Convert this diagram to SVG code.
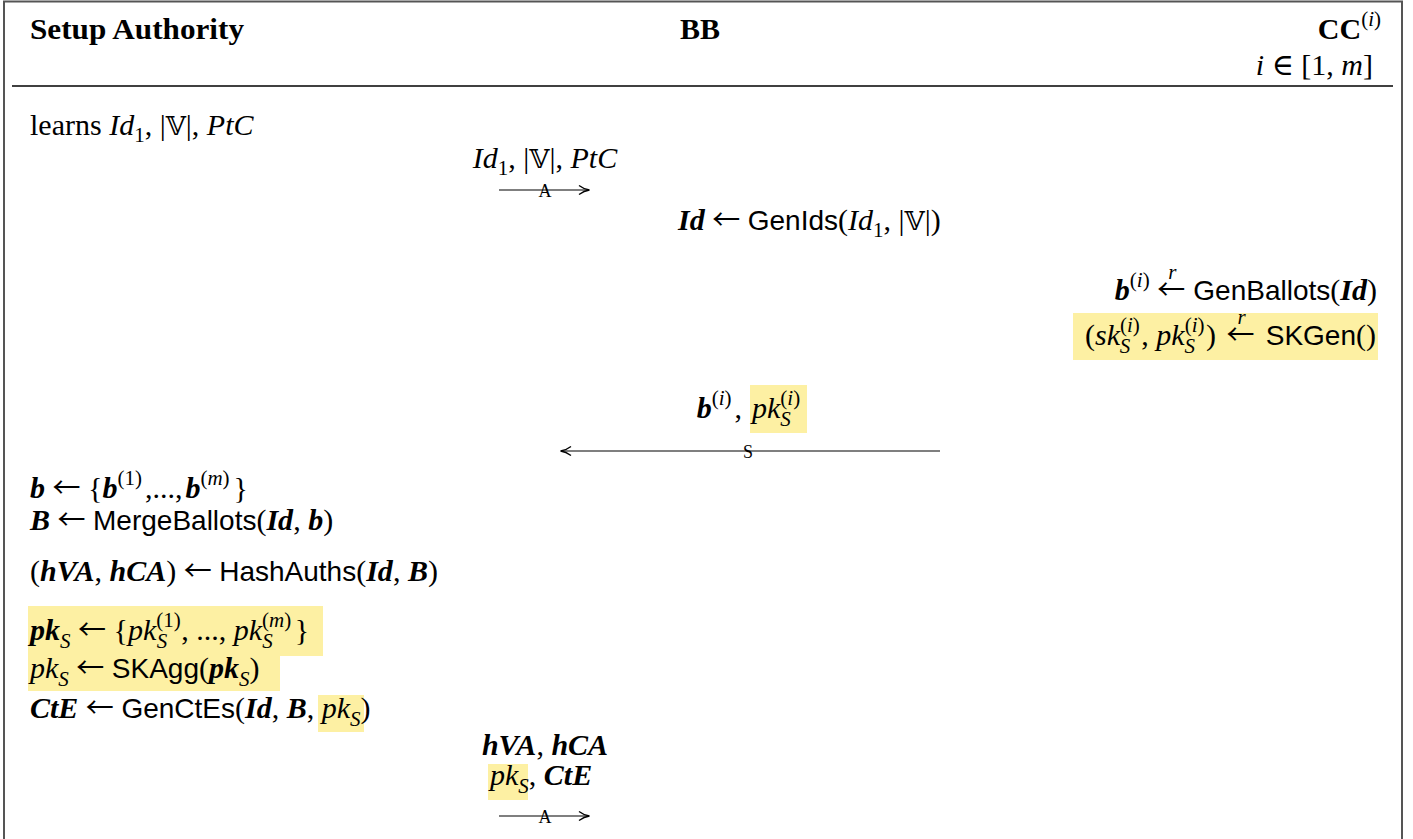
<svg xmlns="http://www.w3.org/2000/svg" width="1413" height="839" viewBox="0 0 1413 839">
<style>
.t{font-family:"Liberation Serif","DejaVu Serif",serif;font-size:30px;fill:#000}
.hd{font-weight:bold;font-size:30px}
.i{font-style:italic}
.bi{font-style:italic;font-weight:bold}
.sf{font-family:"Liberation Sans","DejaVu Sans",sans-serif;font-size:28px}
.ar{font-family:"Noto Sans CJK SC","DejaVu Sans",sans-serif;font-size:28px;font-weight:normal}
.bb{font-family:"DejaVu Serif","DejaVu Sans",serif;font-size:26px}
.sm{font-size:21px}
.lab{font-family:"Liberation Serif",serif;font-size:18px;fill:#000;text-anchor:middle}
.hl{fill:#fdf0a3}
.msg{stroke:#000;stroke-width:1.2;fill:none}
</style>
<defs>
<marker id="ah" viewBox="0 0 12 12" refX="11" refY="6" markerWidth="12" markerHeight="12" markerUnits="userSpaceOnUse" orient="auto-start-reverse">
<path d="M1,1.5 Q6,5.3 11.5,6 Q6,6.7 1,10.5" fill="none" stroke="#000" stroke-width="1.3"/>
</marker>
</defs>
<rect x="0" y="0" width="1413" height="839" fill="#fff"/>
<path d="M4,845 V1.5 H1402 V845" fill="none" stroke="#555" stroke-width="2"/>
<line x1="12" y1="86" x2="1393" y2="86" stroke="#000" stroke-width="1.3"/>

<g id="setup-authority"><text class="t hd" x="30" y="39" textLength="214" lengthAdjust="spacingAndGlyphs">Setup Authority</text></g>
<g id="bb"><text class="t hd" x="700" y="39" text-anchor="middle">BB</text></g>
<g id="cc"><text class="t" x="1381" y="39" text-anchor="end"><tspan class="hd">CC</tspan><tspan class="sm" dy="-13">(<tspan class="i">i</tspan>)</tspan></text>
<text class="t" x="1373" y="75" text-anchor="end"><tspan class="i">i</tspan> ∈ [1, <tspan class="i">m</tspan>]</text></g>

<g id="highlights">
<rect class="hl" x="1073" y="313" width="305" height="47"/>
<rect class="hl" x="750" y="385" width="57" height="48"/>
<rect class="hl" x="28" y="606" width="295" height="50"/>
<rect class="hl" x="28" y="656" width="252" height="35"/>
<rect class="hl" x="318" y="695" width="46" height="37"/>
<rect class="hl" x="488" y="764" width="40" height="36"/>
</g>

<g id="sa-learns"><text class="t" x="30" y="135">learns <tspan class="i">Id</tspan><tspan class="sm" dy="7">1</tspan><tspan dy="-7">, |</tspan><tspan class="bb">𝕍</tspan>|, <tspan class="i">PtC</tspan></text></g>

<g id="msg1-label"><text class="t" x="545" y="168" text-anchor="middle"><tspan class="i">Id</tspan><tspan class="sm" dy="7">1</tspan><tspan dy="-7">, |</tspan><tspan class="bb">𝕍</tspan>|, <tspan class="i">PtC</tspan></text></g>

<g id="bb-genids"><text class="t" x="678" y="230"><tspan class="bi">Id</tspan> <tspan class="ar">←</tspan> <tspan class="sf">GenIds</tspan>(<tspan class="i">Id</tspan><tspan class="sm" dy="7">1</tspan><tspan dy="-7">, |</tspan><tspan class="bb">𝕍</tspan>|)</text></g>

<g id="cc-genballots"><text class="t" x="1377" y="300" text-anchor="end"><tspan class="bi">b</tspan><tspan class="sm" dy="-13">(<tspan class="i">i</tspan>)</tspan><tspan dy="13"> </tspan><tspan class="ar">←</tspan><tspan class="sm i" dx="-17" dy="-21" font-size="17">r</tspan><tspan class="sf" dx="17" dy="21">GenBallots</tspan>(<tspan class="bi">Id</tspan>)</text></g>

<g id="cc-skgen"><text class="t" x="1376" y="345" text-anchor="end">(<tspan class="i">sk</tspan><tspan class="sm" dy="-13">(<tspan class="i">i</tspan>)</tspan><tspan class="sm i" dx="-20" dy="21">S</tspan><tspan dx="11" dy="-8">, </tspan><tspan class="i">pk</tspan><tspan class="sm" dy="-13">(<tspan class="i">i</tspan>)</tspan><tspan class="sm i" dx="-20" dy="21">S</tspan><tspan dx="11" dy="-8">) </tspan><tspan class="ar" dx="3">←</tspan><tspan class="sm i" dx="-17" dy="-21" font-size="17">r</tspan><tspan class="sf" dx="20" dy="21">SKGen</tspan>()</text></g>

<g id="msg2-label"><text class="t" x="742" y="418" text-anchor="end"><tspan class="bi">b</tspan><tspan class="sm" dy="-13">(<tspan class="i">i</tspan>)</tspan><tspan dy="13" dx="3">,</tspan></text>
<text class="t" x="752" y="418"><tspan class="i">pk</tspan><tspan class="sm" dy="-13">(<tspan class="i">i</tspan>)</tspan><tspan class="sm i" dx="-20" dy="21">S</tspan></text></g>

<g id="sa-b"><text class="t" x="30" y="498"><tspan class="bi">b</tspan> <tspan class="ar">←</tspan> {<tspan class="bi">b</tspan><tspan class="sm" dy="-13">(1)</tspan><tspan dy="13" dx="3">,...,</tspan><tspan class="bi" dx="3">b</tspan><tspan class="sm" dy="-13">(<tspan class="i">m</tspan>)</tspan><tspan dy="13" dx="4">}</tspan></text></g>

<g id="sa-merge"><text class="t" x="30" y="530"><tspan class="bi">B</tspan> <tspan class="ar">←</tspan> <tspan class="sf">MergeBallots</tspan>(<tspan class="bi">Id</tspan>, <tspan class="bi">b</tspan>)</text></g>

<g id="sa-hash"><text class="t" x="30" y="581">(<tspan class="bi">hVA</tspan>, <tspan class="bi">hCA</tspan>) <tspan class="ar">←</tspan> <tspan class="sf">HashAuths</tspan>(<tspan class="bi">Id</tspan>, <tspan class="bi">B</tspan>)</text></g>

<g id="sa-pks"><text class="t" x="30" y="640"><tspan class="bi">pk</tspan><tspan class="sm i" dy="8">S</tspan><tspan dy="-8"> </tspan><tspan class="ar">←</tspan> {<tspan class="i">pk</tspan><tspan class="sm" dy="-13">(1)</tspan><tspan class="sm i" dx="-24" dy="21">S</tspan><tspan dx="14" dy="-8">, ..., </tspan><tspan class="i">pk</tspan><tspan class="sm" dy="-13">(<tspan class="i">m</tspan>)</tspan><tspan class="sm i" dx="-29" dy="21">S</tspan><tspan dx="22" dy="-8">}</tspan></text></g>

<g id="sa-skagg"><text class="t" x="30" y="678"><tspan class="i">pk</tspan><tspan class="sm i" dy="8">S</tspan><tspan dy="-8"> </tspan><tspan class="ar">←</tspan> <tspan class="sf">SKAgg</tspan>(<tspan class="bi">pk</tspan><tspan class="sm i" dy="8">S</tspan><tspan dy="-8">)</tspan></text></g>

<g id="sa-genctes"><text class="t" x="30" y="718"><tspan class="bi">CtE</tspan> <tspan class="ar">←</tspan> <tspan class="sf">GenCtEs</tspan>(<tspan class="bi">Id</tspan>, <tspan class="bi">B</tspan>, <tspan class="i">pk</tspan><tspan class="sm i" dy="8">S</tspan><tspan dy="-8">)</tspan></text></g>

<g id="msg3-label"><text class="t" x="545" y="755" text-anchor="middle"><tspan class="bi">hVA</tspan>, <tspan class="bi">hCA</tspan></text>
<text class="t" x="490" y="785"><tspan class="i">pk</tspan><tspan class="sm i" dy="8">S</tspan><tspan dy="-8">, </tspan><tspan class="bi">CtE</tspan></text></g>

<g id="connectors">
<line class="msg" x1="499" y1="190" x2="589" y2="190" marker-end="url(#ah)"/>
<text class="lab" x="545" y="197">A</text>
<line class="msg" x1="940" y1="451" x2="561" y2="451" marker-end="url(#ah)"/>
<text class="lab" x="748" y="458">S</text>
<line class="msg" x1="499" y1="816" x2="589" y2="816" marker-end="url(#ah)"/>
<text class="lab" x="545" y="823">A</text>
</g>
</svg>
